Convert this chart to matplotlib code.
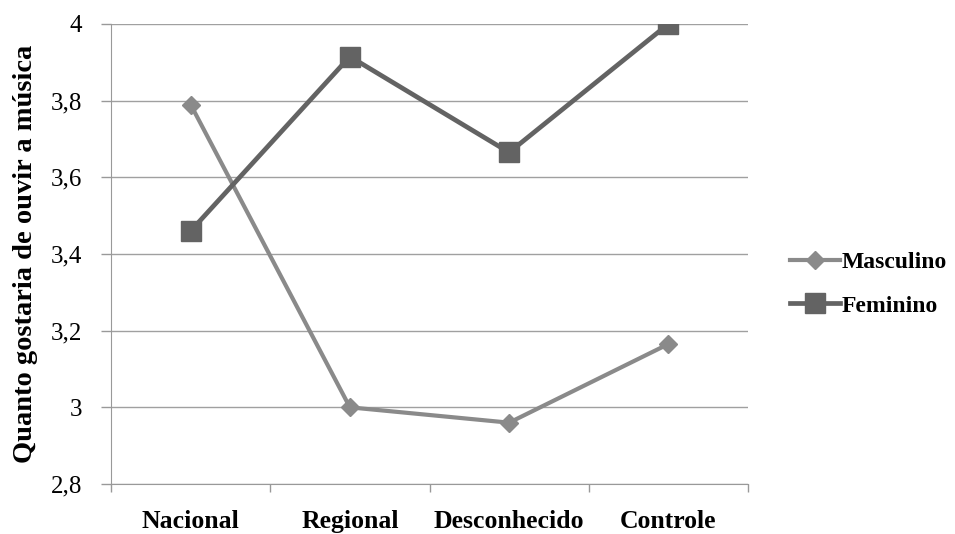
import matplotlib
matplotlib.use("Agg")
import matplotlib.pyplot as plt
import numpy as np

categories = ["Nacional", "Regional", "Desconhecido", "Controle"]
masculino = [3.79, 3.0, 2.96, 3.165]
feminino = [3.46, 3.915, 3.665, 4.0]
yticks = [2.8, 3.0, 3.2, 3.4, 3.6, 3.8, 4.0]
ytick_labels = ["2,8", "3", "3,2", "3,4", "3,6", "3,8", "4"]

plt.rcParams['font.family'] = ['Liberation Serif', 'DejaVu Serif']

fig = plt.figure(figsize=(9.55, 5.34), dpi=100)
ax = fig.add_axes([111/955, 50/534, (748-111)/955, (484-24)/534])

x = np.arange(len(categories))
ax.plot(x, masculino, color="#8a8a8a", lw=3.0, marker="D", markersize=9,
        label="Masculino", zorder=3)
ax.plot(x, feminino, color="#636363", lw=3.4, marker="s", markersize=14,
        label="Feminino", zorder=4)

ax.set_xlim(-0.5, len(categories) - 0.5)
ax.set_ylim(2.8, 4.0)
ax.set_yticks(yticks)
ax.set_yticklabels(ytick_labels, fontsize=18)
ax.set_xticks(x)
ax.set_xticklabels(categories, fontsize=18.5, fontweight="bold")
ax.set_xticks(np.arange(-0.5, len(categories)), minor=True)
ax.tick_params(axis="x", which="major", length=0, pad=19)
ax.tick_params(axis="x", which="minor", length=6, color="#999999", width=1)
ax.tick_params(axis="y", length=7, color="#999999", width=1, pad=14)
ax.yaxis.grid(True, color="#a0a0a0", lw=1)
ax.set_axisbelow(True)
for s in ["top", "right"]:
    ax.spines[s].set_visible(False)
ax.spines["left"].set_color("#999999")
ax.spines["bottom"].set_color("#999999")
ax.set_ylabel("Quanto gostaria de ouvir a música", fontsize=20.5,
              fontweight="bold")
ax.yaxis.set_label_coords(-0.114, 0.5)

ax.legend(loc="center left", bbox_to_anchor=(790/955, (534-284)/534),
          frameon=False, prop={"weight": "bold", "size": 17},
          handlelength=2.1, labelspacing=0.95, handletextpad=0.1,
          bbox_transform=fig.transFigure, borderaxespad=0, borderpad=0)

fig.savefig("out.png", dpi=100)
